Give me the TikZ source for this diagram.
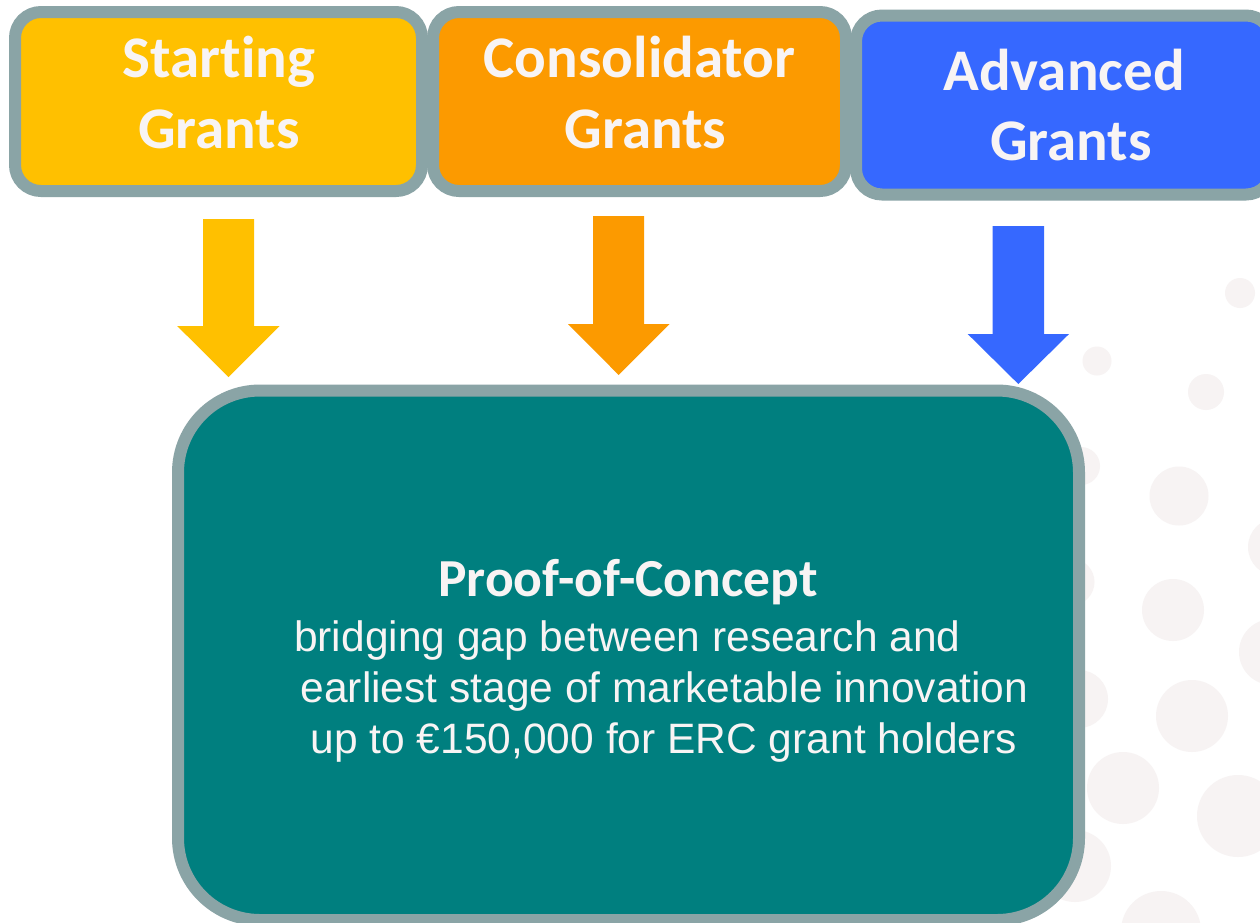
\documentclass[tikz,border=0pt]{standalone}
\usepackage{fontspec}
\setmainfont{Liberation Sans}
\newfontfamily\titlefont{Carlito}[BoldFont={* Bold}, BoldFeatures={Ligatures={NoCommon}}, Ligatures={NoCommon}]
\definecolor{ercyellow}{HTML}{FFC000}
\definecolor{ercorange}{HTML}{FC9A00}
\definecolor{ercblue}{HTML}{3668FF}
\definecolor{ercteal}{HTML}{007F7F}
\definecolor{ercgray}{HTML}{8AA4A6}
\definecolor{erctext}{HTML}{F8F4F4}
\definecolor{ercdot}{HTML}{F7F3F3}
\tikzset{
  grantbox/.style={draw=ercgray, line width=12pt, rounded corners=26pt, inner sep=0pt,
    minimum width=#1, minimum height=179pt},
  pocbox/.style={draw=ercgray, fill=ercteal, line width=12pt, rounded corners=82pt, inner sep=0pt,
    minimum width=901pt, minimum height=529.5pt},
  gtitle/.style={anchor=base, text=erctext, inner sep=0pt, font=\titlefont\bfseries\fontsize{59}{70}\selectfont},
  ptitle/.style={anchor=base, text=erctext, inner sep=0pt, font=\titlefont\bfseries\fontsize{53.5}{64}\selectfont},
  body/.style={anchor=base west, text=erctext, inner sep=0pt, font=\fontsize{42.5}{50}\selectfont},
  dot/.style={fill=ercdot},
}
\begin{document}
\begin{tikzpicture}[x=1pt,y=-1pt]
\useasboundingbox (0,0) rectangle (1260,922);
\clip (0,0) rectangle (1260,922);
\fill[white] (0,0) rectangle (1260,922);
% background dots
\foreach \cx/\cy/\r in {1240/293/15, 1097/361/14.5, 1206/392/18, 1081/466/19, 1179/496/29.5,
  1277/547/29, 1071/582/23.5, 1173/610/31, 1272/652/33, 1079/699/29, 1192/716/36,
  1123/788/36, 1238/816/41, 1075/866/36, 1161/931/40}
  \fill[dot] (\cx,\cy) circle (\r);
% top boxes
\node[grantbox=407pt, fill=ercyellow] (sg) at (218.5,101.5) {};
\node[grantbox=413pt, fill=ercorange] (cg) at (639.5,101.5) {};
\node[grantbox=416pt, fill=ercblue] (ag) at (1064,105) {};
\node[gtitle] (sg1) at (219,77.3) {Start\kern0pt ing};
\node[gtitle] (sg2) at (219,148.3) {Grants};
\node[gtitle] (cg1) at (639.5,77.3) {Consolidator};
\node[gtitle] (cg2) at (645.5,148.3) {Grants};
\node[gtitle] (ag1) at (1064,90.7) {Advanced};
\node[gtitle] (ag2) at (1071,160.7) {Grants};
% big box
\node[pocbox] (poc) at (628.5,655.25) {};
\node[ptitle] (poct) at (628,596.7) {Proof-of-Concept};
\node[body] (pl1) at (294,651.7) {bridging gap between research and};
\node[body] (pl2) at (300.5,702.2) {earliest stage of marketable innovation};
\node[body] (pl3) at (310.5,753) {up to €150,000 for ERC grant holders};
% block arrows
\fill[ercyellow] (203,219) -- (254,219) -- (254,326) -- (279.5,326) -- (228.5,377)
  -- (177.2,326) -- (203,326) -- cycle;
\fill[ercorange] (593,216) -- (644.2,216) -- (644.2,324) -- (669.6,324) -- (618.7,375)
  -- (568,324) -- (593,324) -- cycle;
\fill[ercblue] (992.7,226) -- (1044,226) -- (1044,334) -- (1069,334) -- (1018.3,384)
  -- (967.7,334) -- (992.7,334) -- cycle;
\end{tikzpicture}
\end{document}
